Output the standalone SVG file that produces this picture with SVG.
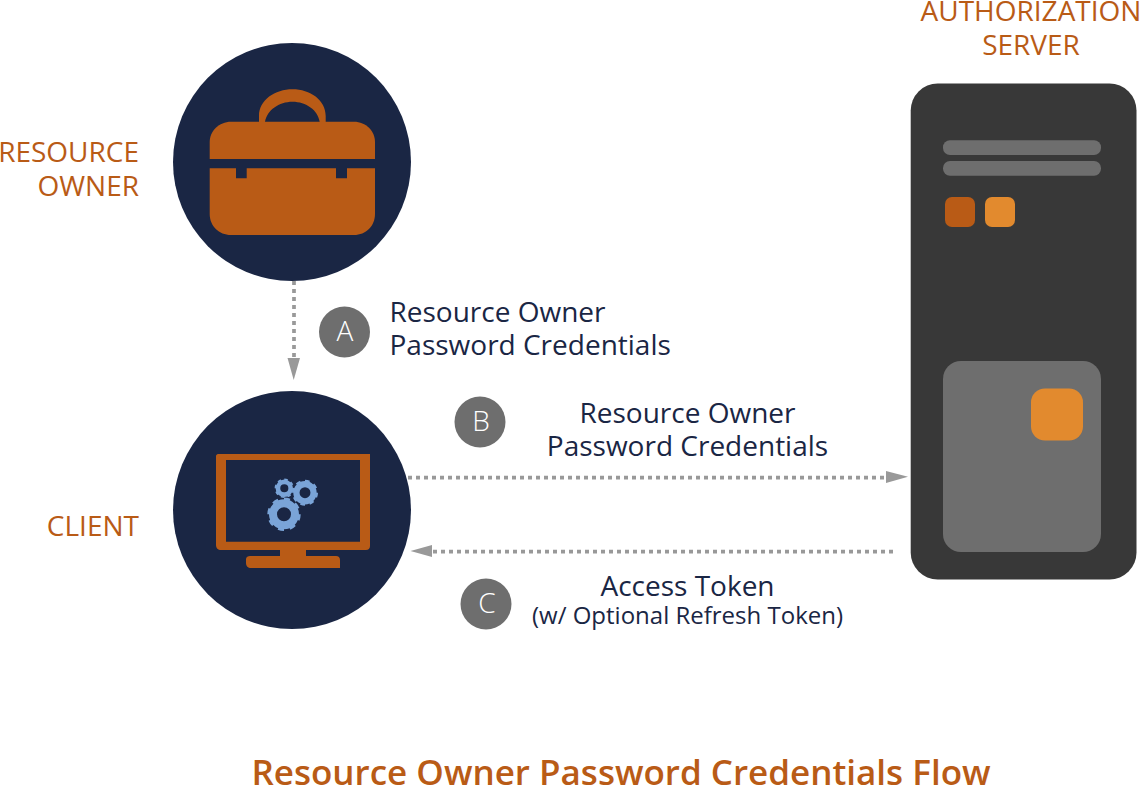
<svg xmlns="http://www.w3.org/2000/svg" width="1140" height="786" viewBox="0 0 1140 786">
<style>
text{font-family:"Open Sans","Noto Sans","Liberation Sans",sans-serif}
.lbl{font-size:28px;fill:#b95b16}
.end{text-anchor:end}
.mid{text-anchor:middle}
.dark{font-size:28px;fill:#1a2644}
.badge{font-size:28px;fill:#fff;text-anchor:middle;font-weight:300}
.navy{fill:#1a2644}
.org{fill:#b95b16}
.lt{fill:#e28a2e}
.gry{fill:#6e6e6e}
.flow{fill:none;stroke:#999;stroke-width:3.7;stroke-dasharray:4 4}
.head{fill:#999}
.gb{fill:none;stroke:#7aa4d8}
</style>
<defs>
<g id="gear">
<circle r="11" class="gb" stroke-width="8"/>
<circle r="15.2" class="gb" stroke-width="3" pathLength="80" stroke-dasharray="5 5"/>
</g>
</defs>
<g id="resource-owner">
<circle cx="292" cy="162" r="119" class="navy"/>
<path class="org" fill-rule="evenodd" d="M259 122V116C259 100 275 89.300 292.500 89.300C310 89.300 325.700 100 325.700 116V122H319.700C318 110 306 101.700 292.500 101.700C279 101.700 267 110 265 122Z"/>
<path class="org" d="M231 121.700H354C366 121.700 375 131 375 142V159H209.700V142C209.700 131 219 121.700 231 121.700Z"/>
<path class="org" d="M209.700 168.300H236V178.300H246.700V168.300H336V178.300H347V168.300H375V214C375 226 366 235 354 235H231C219 235 209.700 226 209.700 214Z"/>
<text class="lbl end" x="139" y="162">RESOURCE</text>
<text class="lbl end" x="139" y="196">OWNER</text>
</g>
<g id="client">
<circle cx="292" cy="510" r="119" class="navy"/>
<path class="org" fill-rule="evenodd" d="M218 454H370V546C370 548.500 368.500 550 366 550H306V556H336C338.500 556 340 557.500 340 560V568H251C248 568 246 566 246 563V559C246 557 248 556 250 556H280V550H221C218 550 216 548 216 545V456C216 455 217 454 218 454ZM226 460V541.700H360V460Z"/>
<use href="#gear" transform="translate(284 514.300)"/>
<use href="#gear" transform="translate(305 492.700) scale(.78)"/>
<use href="#gear" transform="translate(284.300 488.300) scale(.58)"/>
<text class="lbl end" x="139" y="536">CLIENT</text>
</g>
<g id="authorization-server">
<rect x="910.700" y="83.500" width="225.800" height="496" rx="27" fill="#383838"/>
<rect x="943" y="140.300" width="158" height="14.700" rx="7" class="gry"/>
<rect x="943" y="161" width="158" height="14.700" rx="7" class="gry"/>
<rect x="945" y="197" width="30" height="30" rx="7" class="org"/>
<rect x="985" y="197" width="30" height="30" rx="7" class="lt"/>
<rect x="943" y="361" width="158" height="191" rx="18" class="gry"/>
<rect x="1031" y="388.500" width="52" height="52" rx="14" class="lt"/>
<text class="lbl mid" x="1031" y="21">AUTHORIZATION</text>
<text class="lbl mid" x="1031" y="55">SERVER</text>
</g>
<g id="connectors">
<path class="flow" d="M294 281V358"/>
<path class="head" d="M287.500 358H300L293.700 380Z"/>
<path class="flow" d="M408 477.700H886"/>
<path class="head" d="M886 471V483L908 476.800Z"/>
<path class="flow" d="M893 551.700H432"/>
<path class="head" d="M432 545V557L410.500 551Z"/>
</g>
<g id="step-a">
<circle cx="344.500" cy="332" r="25.500" class="gry"/>
<text class="badge" x="345" y="341">A</text>
<text class="dark" x="389.500" y="322">Resource Owner</text>
<text class="dark" x="389.500" y="355">Password Credentials</text>
</g>
<g id="step-b">
<circle cx="480" cy="422" r="25.500" class="gry"/>
<text class="badge" x="481" y="431">B</text>
<text class="dark mid" x="687.500" y="423">Resource Owner</text>
<text class="dark mid" x="687.500" y="456">Password Credentials</text>
</g>
<g id="step-c">
<circle cx="486" cy="604" r="25.500" class="gry"/>
<text class="badge" x="487" y="613">C</text>
<text class="dark mid" x="687.500" y="596">Access Token</text>
<text class="mid" x="687.500" y="623.500" font-size="24" fill="#1a2644">(w/ Optional Refresh Token)</text>
</g>
<text id="title" class="mid" x="621" y="785" font-size="35" font-weight="600" fill="#b95b16">Resource Owner Password Credentials Flow</text>
</svg>
